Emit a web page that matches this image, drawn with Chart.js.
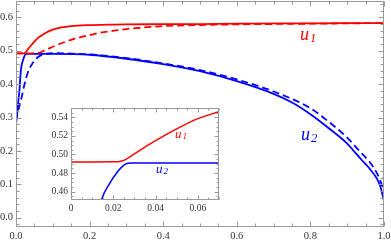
<!DOCTYPE html>
<html>
<head>
<meta charset="utf-8">
<script src="https://cdn.jsdelivr.net/npm/chart.js@4"></script>
<style>
body { margin: 0; background: #fff; }
#wrap { position: relative; width: 391px; height: 241px; overflow: hidden; }
#main { position: absolute; left: 0; top: 0; }
#inset { position: absolute; left: 44px; top: 104px; }
.lbl { position: absolute; font-family: "Liberation Serif", "DejaVu Serif", serif; font-style: italic; line-height: 1; white-space: nowrap; }
.lbl sub { font-size: 0.7em; vertical-align: baseline; position: relative; top: 0.12em; margin-left: 1px; }
</style>
</head>
<body>
<div id="wrap">
  <canvas id="main" width="391" height="241"></canvas>
  <canvas id="inset" width="180" height="112"></canvas>
  <div class="lbl" style="left:300px;top:25px;font-size:18px;color:#f00">u<sub>1</sub></div>
  <div class="lbl" style="left:301px;top:125px;font-size:18px;color:#00f">u<sub>2</sub></div>
  <div class="lbl" style="left:175px;top:127px;font-size:13px;color:#f00">u<sub>1</sub></div>
  <div class="lbl" style="left:156px;top:162px;font-size:13px;color:#00f">u<sub>2</sub></div>
</div>
<script>
// tick labels
const xMajor = [0, 0.2, 0.4, 0.6, 0.8, 1.0]
const yMajor = [0, 0.1, 0.2, 0.3, 0.4, 0.5, 0.6]
const insetXMajor = [0, 0.02, 0.04, 0.06]
const insetYMajor = [0.46, 0.48, 0.50, 0.52, 0.54]

// u1, solid
const u1X = [0, 0.01, 0.02, 0.022, 0.024, 0.026, 0.028, 0.03, 0.035, 0.04, 0.05, 0.06, 0.07, 0.08, 0.1, 0.12, 0.15, 0.2, 0.25, 0.3, 0.4, 0.5, 0.6, 0.8, 1.0]
const u1Y = [0.4920, 0.4920, 0.4921, 0.4922, 0.4929, 0.4948, 0.4976, 0.5007, 0.508, 0.515, 0.5276, 0.5386, 0.546, 0.553, 0.563, 0.569, 0.574, 0.577, 0.578, 0.579, 0.5795, 0.580, 0.581, 0.582, 0.583]

// u1, dashed
const u1dX = [0, 0.02, 0.04, 0.05, 0.06, 0.07, 0.08, 0.09, 0.1, 0.12, 0.14, 0.16, 0.18, 0.2, 0.23, 0.26, 0.3, 0.35, 0.4, 0.5, 0.6, 0.8, 1.0]
const u1dY = [0.4920, 0.4920, 0.4922, 0.4925, 0.4935, 0.497, 0.502, 0.507, 0.512, 0.521, 0.529, 0.536, 0.542, 0.547, 0.554, 0.559, 0.565, 0.570, 0.574, 0.577, 0.579, 0.581, 0.583]

// u2, solid
const u2X = [0, 0.003, 0.006, 0.0095, 0.012, 0.0144, 0.0183, 0.0222, 0.0245, 0.0262, 0.028, 0.032, 0.05, 0.1, 0.15, 0.2, 0.3, 0.4, 0.5, 0.6, 0.7, 0.75, 0.8, 0.85, 0.9, 0.92, 0.94, 0.96, 0.98, 0.99, 1.0]
const u2Y = [0.28, 0.31, 0.345, 0.384, 0.425, 0.451, 0.469, 0.482, 0.4875, 0.4900, 0.4907, 0.4908, 0.4908, 0.4905, 0.490, 0.488, 0.476, 0.460, 0.439, 0.409, 0.371, 0.345, 0.310, 0.268, 0.222, 0.197, 0.172, 0.148, 0.118, 0.094, 0.05]

// u2, dashed
const u2dX = [0, 0.005, 0.01, 0.014, 0.023, 0.032, 0.046, 0.064, 0.082, 0.1, 0.15, 0.2, 0.3, 0.4, 0.5, 0.6, 0.7, 0.8, 0.85, 0.9, 0.92, 0.94, 0.96, 0.98, 0.99, 1.0]
const u2dY = [0.29, 0.315, 0.338, 0.354, 0.399, 0.434, 0.464, 0.484, 0.491, 0.4925, 0.4915, 0.489, 0.478, 0.462, 0.442, 0.414, 0.378, 0.328, 0.287, 0.24, 0.216, 0.192, 0.168, 0.135, 0.11, 0.08]

const pts = (xs, ys) => xs.map((x, i) => ({ x, y: ys[i] }))

const serif = '"Liberation Serif", "DejaVu Serif", serif'

// frame and inward ticks, Mathematica style
const frameTicks = {
	id: 'frameTicks',
	afterDraw(chart, args, opts) {
		const { ctx, chartArea: a, scales: { x, y } } = chart
		ctx.save()
		ctx.strokeStyle = opts.color
		ctx.lineWidth = 1
		const L = Math.round(a.left) + 0.5, R = Math.round(a.right) - 0.5
		const T = Math.round(a.top) + 0.5, B = Math.round(a.bottom) - 0.5
		ctx.strokeRect(L, T, R - L, B - T)
		ctx.beginPath()
		const marks = (scale, minor, major, draw) => {
			const k0 = Math.ceil(scale.min / minor - 1e-6), k1 = Math.floor(scale.max / minor + 1e-6)
			for (let k = k0; k <= k1; k++) {
				const v = k * minor
				const r = v / major
				const len = Math.abs(r - Math.round(r)) < 1e-6 ? opts.major : opts.minor
				draw(Math.round(scale.getPixelForValue(v)) + 0.5, len)
			}
		}
		marks(x, opts.xMinor, opts.xStep, (p, len) => {
			ctx.moveTo(p, B); ctx.lineTo(p, B - len)
			ctx.moveTo(p, T); ctx.lineTo(p, T + len)
		})
		marks(y, opts.yMinor, opts.yStep, (p, len) => {
			ctx.moveTo(L, p); ctx.lineTo(L + len, p)
			ctx.moveTo(R, p); ctx.lineTo(R - len, p)
		})
		ctx.stroke()
		ctx.restore()
	}
}

const line = (data, color, width, dash) => ({
	data, borderColor: color, borderWidth: width, borderDash: dash || [],
	pointRadius: 0, showLine: true, cubicInterpolationMode: 'monotone', clip: 0
})

// fixed axis size, no label overhang padding
const fixSize = (w, h) => s => {
	if (w) s.width = w
	if (h) s.height = h
	s.paddingTop = s.paddingBottom = s.paddingLeft = s.paddingRight = 0
}

const axis = (min, max, ticks, fmt, fit, font) => ({
	type: 'linear', min, max,
	grid: { display: false, drawTicks: false }, border: { display: false },
	afterBuildTicks: s => { s.ticks = ticks.map(value => ({ value })) },
	afterFit: fit,
	ticks: { callback: fmt, padding: 3, color: '#333', font: { family: serif, size: font } }
})

new Chart(document.getElementById('main'), {
	type: 'scatter',
	data: {
		datasets: [
			line(pts(u1dX, u1dY), '#f00', 1.8, [7, 4]),
			line(pts(u2dX, u2dY), '#00f', 1.8, [7, 4]),
			line(pts(u1X, u1Y), '#f00', 1.8),
			line(pts(u2X, u2Y), '#00f', 1.8)
		]
	},
	plugins: [frameTicks],
	options: {
		responsive: false, animation: false,
		layout: { padding: { top: 1, right: 7, left: 0, bottom: 0 } },
		scales: {
			x: axis(0, 1, xMajor, v => v.toFixed(1), fixSize(0, 14), 10.5),
			y: axis(-0.028, 0.649, yMajor, v => v.toFixed(1), fixSize(16, 0), 10.5)
		},
		plugins: {
			legend: { display: false }, tooltip: { enabled: false },
			frameTicks: { color: '#999', major: 5, minor: 3, xStep: 0.2, xMinor: 0.05, yStep: 0.1, yMinor: 0.02 }
		}
	}
})

new Chart(document.getElementById('inset'), {
	type: 'scatter',
	data: {
		datasets: [
			line(pts(u1X, u1Y), '#f00', 1.5),
			line(pts(u2X, u2Y), '#00f', 1.5)
		]
	},
	plugins: [frameTicks],
	options: {
		responsive: false, animation: false,
		layout: { padding: { top: 4, right: 5, left: 0, bottom: 0 } },
		scales: {
			x: axis(0, 0.07, insetXMajor, v => v === 0 ? '0' : v.toFixed(2), fixSize(0, 16), 9.5),
			y: axis(0.451, 0.55, insetYMajor, v => v.toFixed(2), fixSize(27, 0), 9.5)
		},
		plugins: {
			legend: { display: false }, tooltip: { enabled: false },
			frameTicks: { color: '#999', major: 4, minor: 2, xStep: 0.02, xMinor: 0.005, yStep: 0.02, yMinor: 0.005 }
		}
	}
})
</script>
</body>
</html>
